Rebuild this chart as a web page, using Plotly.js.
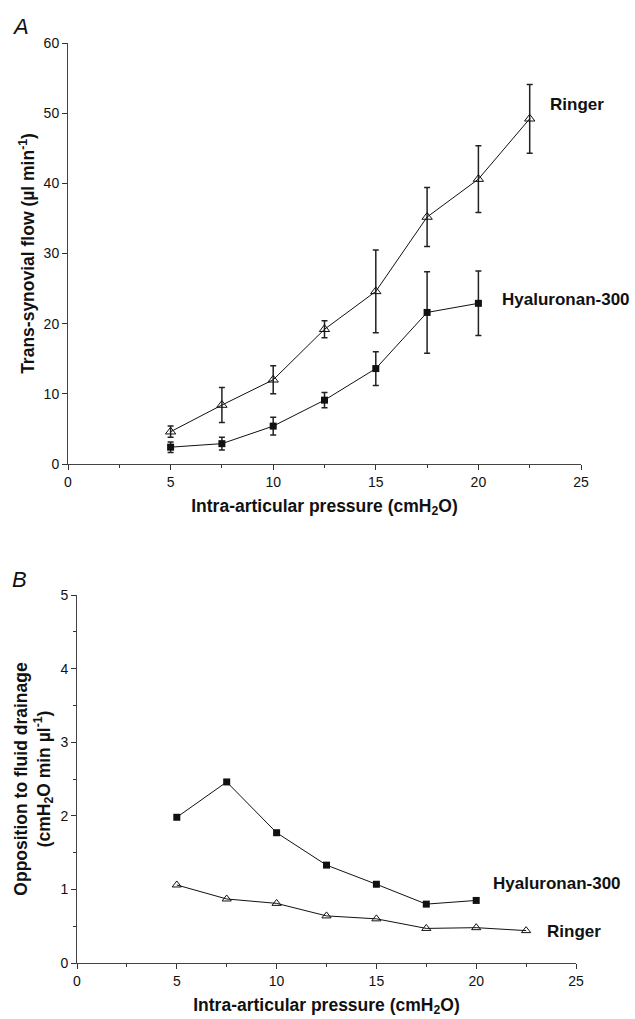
<!DOCTYPE html>
<html>
<head>
<meta charset="utf-8">
<script src="https://cdn.plot.ly/plotly-3.0.1.min.js"></script>
<style>html,body{margin:0;padding:0;background:#fff;}#chart{width:635px;height:1019px;}</style>
</head>
<body>
<div id="chart"></div>
<script>
// Panel A: trans-synovial flow (µl/min)
const pressureRingerA = [5, 7.5, 10, 12.5, 15, 17.5, 20, 22.5];
const flowRinger = [4.6, 8.4, 12.0, 19.2, 24.6, 35.2, 40.6, 49.2];
const flowRingerErr = [0.8, 2.5, 2.0, 1.2, 5.9, 4.2, 4.75, 4.9];
const pressureHyalA = [5, 7.5, 10, 12.5, 15, 17.5, 20];
const flowHyal = [2.4, 2.9, 5.4, 9.1, 13.6, 21.6, 22.9];
const flowHyalErr = [0.75, 0.9, 1.25, 1.1, 2.4, 5.8, 4.6];
// Panel B: opposition to fluid drainage
const pressureRingerB = [5, 7.5, 10, 12.5, 15, 17.5, 20, 22.5];
const oppRinger = [1.06, 0.87, 0.81, 0.64, 0.60, 0.47, 0.48, 0.44];
const pressureHyalB = [5, 7.5, 10, 12.5, 15, 17.5, 20];
const oppHyal = [1.98, 2.46, 1.77, 1.33, 1.07, 0.80, 0.85];

const FONT = 'Liberation Sans, Arial, sans-serif';
const lineStyle = {color: '#111', width: 1};
const triMarker = {symbol: 'triangle-up-open', size: 9, color: '#111', line: {width: 1, color: '#111'}};
const sqMarker = {symbol: 'square', size: 7, color: '#111'};

const traces = [
  {x: pressureRingerA, y: flowRinger, xaxis: 'x', yaxis: 'y', mode: 'lines+markers',
   line: lineStyle, marker: triMarker,
   error_y: {type: 'data', array: flowRingerErr, visible: true, color: '#222', thickness: 1.5, width: 3}},
  {x: pressureHyalA, y: flowHyal, xaxis: 'x', yaxis: 'y', mode: 'lines+markers',
   line: lineStyle, marker: sqMarker,
   error_y: {type: 'data', array: flowHyalErr, visible: true, color: '#222', thickness: 1.5, width: 3}},
  {x: pressureRingerB, y: oppRinger, xaxis: 'x2', yaxis: 'y2', mode: 'lines+markers',
   line: lineStyle, marker: {symbol: 'triangle-up-open', size: 8, color: '#111', line: {width: 1, color: '#111'}}},
  {x: pressureHyalB, y: oppHyal, xaxis: 'x2', yaxis: 'y2', mode: 'lines+markers',
   line: lineStyle, marker: sqMarker}
];

const axisCommon = {
  showgrid: false, zeroline: false, showline: true, linecolor: '#444', linewidth: 1,
  ticks: 'outside', ticklen: 5, tickcolor: '#333', automargin: false,
  tickfont: {family: FONT, size: 14, color: '#111'}
};
const titleFont = {family: FONT, size: 17.5, color: '#111', weight: 'bold'};
const labelFont = {family: FONT, size: 17, color: '#111', weight: 'bold'};

const layout = {
  width: 635, height: 1019,
  margin: {l: 0, r: 0, t: 0, b: 0},
  paper_bgcolor: '#fff', plot_bgcolor: '#fff',
  showlegend: false,
  font: {family: FONT},
  xaxis: Object.assign({}, axisCommon, {
    domain: [68/635, 581/635], range: [0, 25], dtick: 5, anchor: 'y',
    minor: {dtick: 2.5, ticklen: 3, ticks: 'outside', tickcolor: '#333'},
    title: {text: 'Intra-articular pressure (cmH<sub>2</sub>O)', font: titleFont, standoff: 10}
  }),
  yaxis: Object.assign({}, axisCommon, {
    domain: [1 - 464/1019, 1 - 43/1019], range: [0, 60], dtick: 10, anchor: 'x',
    title: {text: 'Trans-synovial flow (µl min<sup>-1</sup>)', font: titleFont, standoff: 4}
  }),
  xaxis2: Object.assign({}, axisCommon, {
    domain: [77/635, 576/635], range: [0, 25], dtick: 5, anchor: 'y2',
    minor: {dtick: 0.5 * 5, ticklen: 3, ticks: 'outside', tickcolor: '#333'},
    title: {text: 'Intra-articular pressure (cmH<sub>2</sub>O)', font: titleFont, standoff: 10}
  }),
  yaxis2: Object.assign({}, axisCommon, {
    domain: [1 - 963/1019, 1 - 595/1019], range: [0, 5], dtick: 1, anchor: 'x2',
    minor: {dtick: 0.5, ticklen: 3, ticks: 'outside', tickcolor: '#333'},
    title: {text: 'Opposition to fluid drainage<br>(cmH<sub>2</sub>O min µl<sup>-1</sup>)', font: titleFont, standoff: 5}
  }),
  annotations: [
    {text: 'A', xref: 'paper', yref: 'paper', x: 10/635, y: 1 - 12/1019, xanchor: 'left', yanchor: 'top',
     showarrow: false, font: {family: FONT, size: 22, color: '#111', style: 'italic'}},
    {text: 'B', xref: 'paper', yref: 'paper', x: 10/635, y: 1 - 565/1019, xanchor: 'left', yanchor: 'top',
     showarrow: false, font: {family: FONT, size: 22, color: '#111', style: 'italic'}},
    {text: 'Ringer', xref: 'x', yref: 'y', x: 23.4, y: 51.2, xanchor: 'left', yanchor: 'middle',
     showarrow: false, font: labelFont},
    {text: 'Hyaluronan-300', xref: 'x', yref: 'y', x: 21.05, y: 23.5, xanchor: 'left', yanchor: 'middle',
     showarrow: false, font: labelFont},
    {text: 'Hyaluronan-300', xref: 'x2', yref: 'y2', x: 20.75, y: 1.08, xanchor: 'left', yanchor: 'middle',
     showarrow: false, font: labelFont},
    {text: 'Ringer', xref: 'x2', yref: 'y2', x: 23.45, y: 0.43, xanchor: 'left', yanchor: 'middle',
     showarrow: false, font: labelFont}
  ]
};

Plotly.newPlot('chart', traces, layout, {displayModeBar: false, staticPlot: true});
</script>
</body>
</html>
